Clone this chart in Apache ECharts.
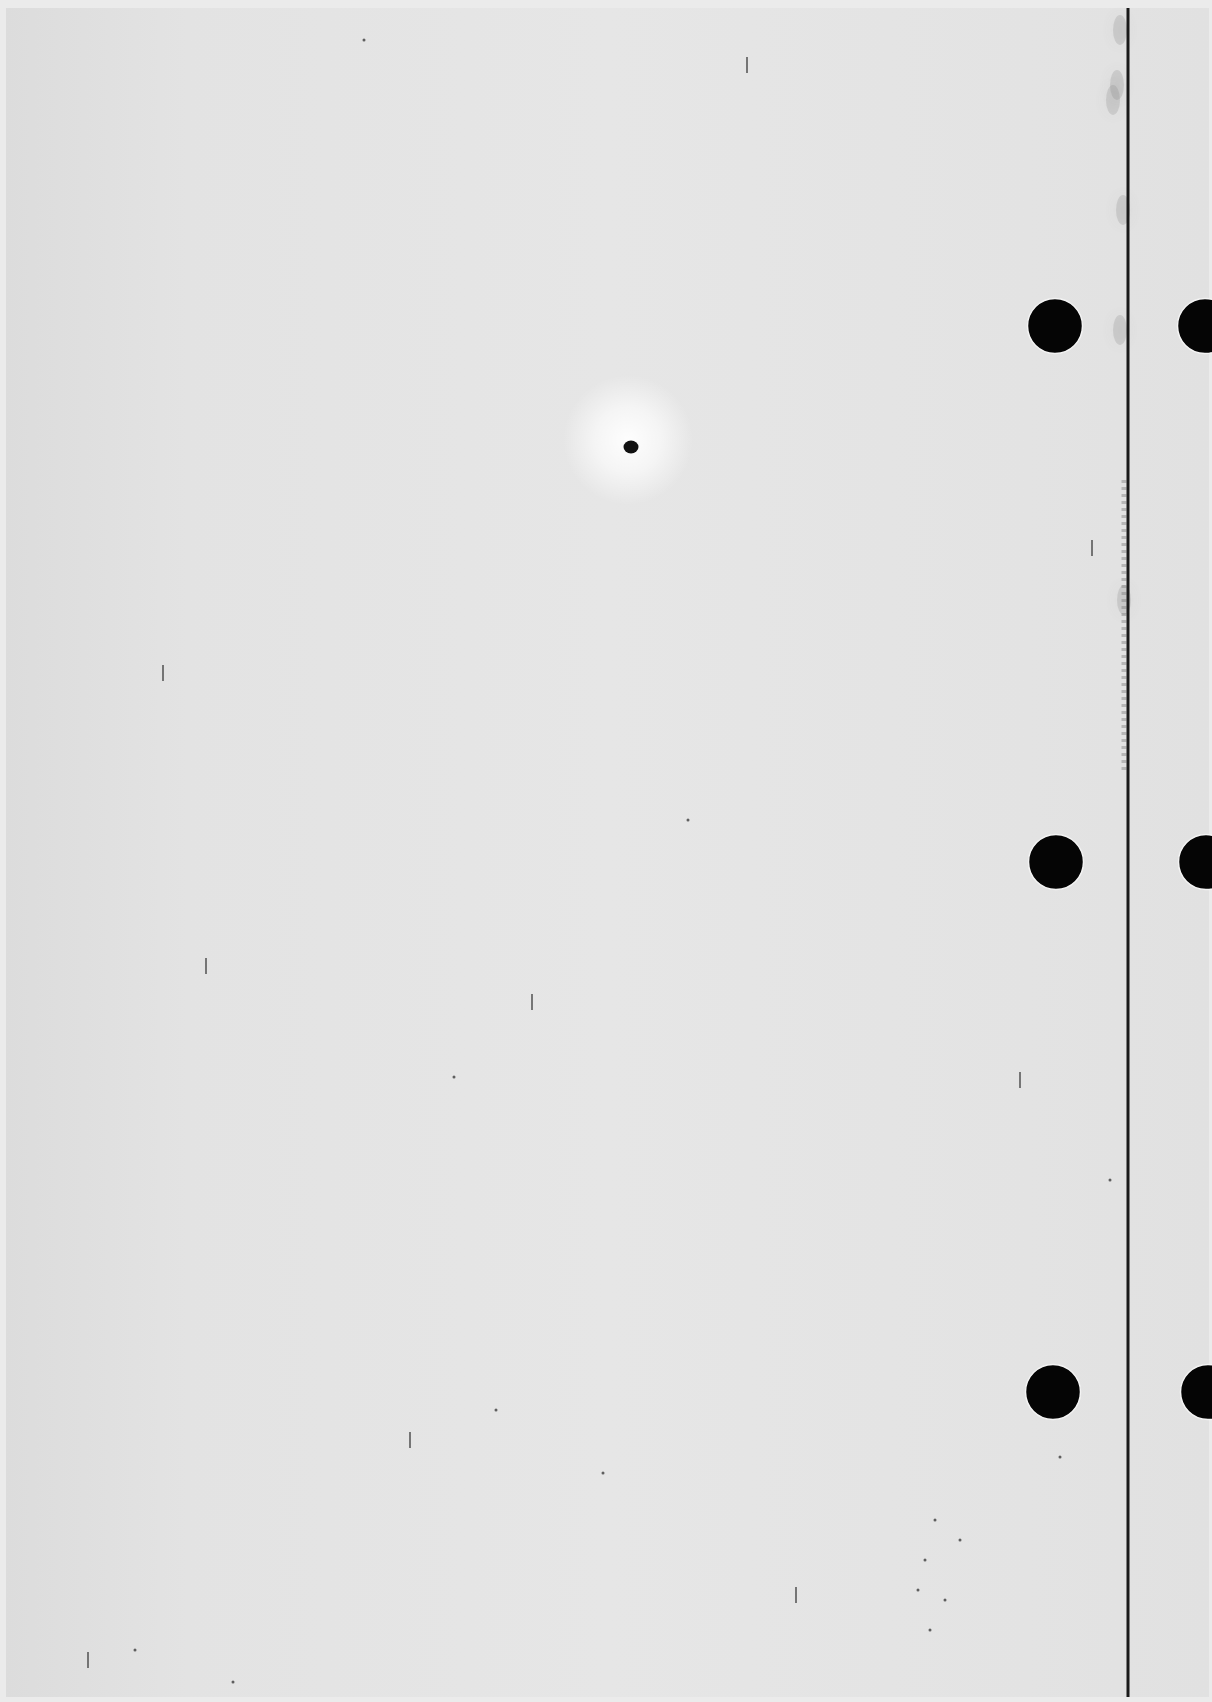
<!DOCTYPE html>
<html><head><meta charset="utf-8">
<script src="https://cdn.jsdelivr.net/npm/echarts@6/dist/echarts.min.js"></script>
<style>html,body{margin:0;padding:0;background:#ebebeb;}#c{width:1212px;height:1702px;}</style>
</head><body><div id="c"></div>
<script>
// Sheet coordinates (px on the scanned page)
const pageCorners = [[6, 8], [1209, 1697]];
const foldLine = [[1128, 8], [1128, 1697]];
const foldShade = [[1124, 480], [1124, 770]];
const holesLeft = [[1055, 326], [1056, 862], [1053, 1392]];
const holesRight = [[1205, 326], [1206, 862], [1208, 1392]];
const centerSpot = [[631, 447]];
const centerGlow = [[628, 440]];
const stains = [[1120, 30], [1117, 85], [1113, 100], [1123, 210], [1120, 330], [1124, 600]];
const streaks = [[163, 673], [206, 966], [532, 1002], [747, 65], [88, 1660], [796, 1595], [1092, 548], [410, 1440], [1020, 1080]];
const dots = [[454, 1077], [496, 1410], [603, 1473], [135, 1650], [688, 820], [935, 1520], [925, 1560], [918, 1590], [945, 1600], [930, 1630], [960, 1540], [1060, 1457], [233, 1682], [364, 40], [1110, 1180]];

const chart = echarts.init(document.getElementById('c'), null, {renderer: 'canvas'});
chart.setOption({
  backgroundColor: '#ebebeb',
  animation: false,
  grid: {left: 0, top: 0, right: 0, bottom: 0},
  xAxis: {type: 'value', min: 0, max: 1212, show: false},
  yAxis: {type: 'value', min: 0, max: 1702, inverse: true, show: false},
  series: [
    {
      type: 'line', data: foldLine, symbol: 'none', z: 3,
      lineStyle: {color: '#1a1a1a', width: 3},
      markArea: {
        silent: true,
        itemStyle: {
          color: {type: 'linear', x: 0, y: 0, x2: 1, y2: 0, colorStops: [
            {offset: 0, color: '#dcdcdc'}, {offset: 0.15, color: '#e3e3e3'},
            {offset: 0.5, color: '#e6e6e6'}, {offset: 0.85, color: '#e3e3e3'},
            {offset: 1, color: '#e1e1e1'}]}
        },
        data: [[{coord: pageCorners[0]}, {coord: pageCorners[1]}]]
      }
    },
    {
      type: 'line', data: foldShade, symbol: 'none', z: 2,
      lineStyle: {color: 'rgba(100,100,100,0.35)', width: 5, type: [3, 4]}
    },
    {
      type: 'scatter', data: centerGlow, symbolSize: 130, z: 2, silent: true,
      itemStyle: {opacity: 1, color: {type: 'radial', x: 0.5, y: 0.5, r: 0.5, colorStops: [
        {offset: 0, color: 'rgba(255,255,255,0.95)'}, {offset: 0.5, color: 'rgba(255,255,255,0.6)'},
        {offset: 1, color: 'rgba(255,255,255,0)'}]}}
    },
    {
      type: 'scatter', data: stains, symbolSize: [14, 30], z: 2, silent: true,
      itemStyle: {opacity: 1, color: 'rgba(120,120,120,0.2)', shadowBlur: 14, shadowColor: 'rgba(100,100,100,0.4)'}
    },
    {
      type: 'scatter', data: streaks, symbol: 'rect', symbolSize: [2, 16], z: 3, silent: true,
      itemStyle: {opacity: 1, color: 'rgba(70,70,70,0.7)'}
    },
    {
      type: 'scatter', data: dots, symbolSize: 3, z: 3, silent: true,
      itemStyle: {opacity: 1, color: 'rgba(50,50,50,0.75)'}
    },
    {
      type: 'scatter', data: centerSpot, symbolSize: [15, 13], z: 4, silent: true,
      itemStyle: {opacity: 1, color: '#111111'}
    },
    {
      type: 'scatter', data: holesLeft, symbolSize: 55, z: 5, silent: true,
      itemStyle: {opacity: 1, color: '#050505', borderColor: '#f4f4f4', borderWidth: 1.5}
    },
    {
      type: 'scatter', data: holesRight, symbolSize: 55, z: 5, silent: true,
      itemStyle: {opacity: 1, color: '#050505', borderColor: '#f4f4f4', borderWidth: 1.5}
    }
  ]
});
</script>
</body></html>
